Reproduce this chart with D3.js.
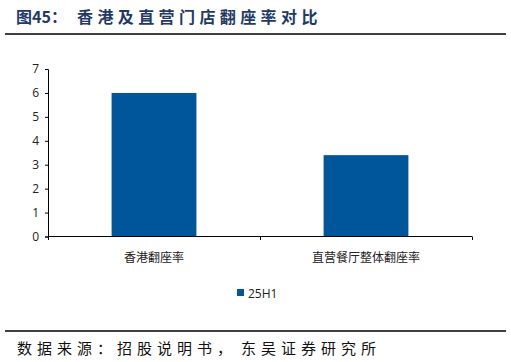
<!DOCTYPE html>
<html>
<head>
<meta charset="utf-8">
<script src="https://cdn.jsdelivr.net/npm/d3@7"></script>
<style>
  body { margin: 0; background: #fff; }
  svg { display: block; }
</style>
</head>
<body>
<svg id="chart" width="511" height="362"></svg>
<script>
let categories = ["香港翻座率", "直营餐厅整体翻座率"]
let values25H1 = [6.0, 3.4]
let yTicks = [0, 1, 2, 3, 4, 5, 6, 7]
let seriesName = "25H1"

let svg = d3.select("#chart")
let barColor = "#00569b"
let cjk = "'Noto Sans CJK SC', sans-serif"
let latin = "'Open Sans', sans-serif"

// title + rules
let title = svg.append("text")
    .attr("y", 23)
    .attr("font-family", cjk)
    .attr("font-weight", "bold")
    .attr("font-size", 16)
    .attr("fill", "#1f3a68")
title.append("tspan").attr("x", 16).text("图45\uFF1A")
title.append("tspan").attr("x", 77).attr("letter-spacing", 4.4).text("香港及直营门店翻座率对比")

svg.append("line").attr("x1", 5).attr("x2", 506).attr("y1", 34).attr("y2", 34)
    .attr("stroke", "#000").attr("stroke-width", 1.5)

svg.append("line").attr("x1", 5).attr("x2", 506).attr("y1", 331).attr("y2", 331)
    .attr("stroke", "#000").attr("stroke-width", 1.5)

let foot = svg.append("text")
    .attr("y", 354)
    .attr("font-family", cjk)
    .attr("font-size", 15)
    .attr("fill", "#111")
    .attr("letter-spacing", 5)
foot.append("tspan").attr("x", 17).text("数据来源\uFF1A招股说明书\uFF0C")
foot.append("tspan").attr("x", 241).text("东吴证券研究所")

// chart
let x = d3.scaleBand(categories, [48, 472]).paddingInner(0).paddingOuter(0)
let y = d3.scaleLinear([0, 7], [236.5, 69])

let g = svg.append("g")

g.selectAll("rect.bar")
    .data(values25H1)
    .enter()
    .append("rect")
    .attr("class", "bar")
    .attr("x", (d, i) => x(categories[i]) + x.bandwidth() * 0.3)
    .attr("width", x.bandwidth() * 0.4)
    .attr("y", d => y(d))
    .attr("height", d => y(0) - y(d))
    .attr("fill", barColor)

let yAxis = g.append("g")
    .attr("transform", "translate(48,0)")
    .call(d3.axisLeft(y).tickValues(yTicks).tickSize(3).tickFormat(d3.format("d")))
yAxis.select(".domain").attr("stroke", "#000")
yAxis.selectAll(".tick line").attr("stroke", "#000")
yAxis.selectAll("text")
    .attr("font-family", latin)
    .attr("font-size", 12)
    .attr("fill", "#222")
    .attr("x", -9)

// x axis line + boundary ticks
g.append("line").attr("x1", 48).attr("x2", 472).attr("y1", 236.5).attr("y2", 236.5)
    .attr("stroke", "#000")
let bounds = [48, x(categories[1]), 472]
g.selectAll("line.xt")
    .data(bounds)
    .enter()
    .append("line")
    .attr("class", "xt")
    .attr("x1", d => d + 0.5).attr("x2", d => d + 0.5)
    .attr("y1", 236.5).attr("y2", 240)
    .attr("stroke", "#000")

g.selectAll("text.cat")
    .data(categories)
    .enter()
    .append("text")
    .attr("class", "cat")
    .attr("x", d => x(d) + x.bandwidth() / 2)
    .attr("y", 262)
    .attr("text-anchor", "middle")
    .attr("font-family", cjk)
    .attr("font-size", 12)
    .attr("fill", "#222")
    .text(d => d)

// legend
svg.append("rect").attr("x", 237).attr("y", 289).attr("width", 7).attr("height", 7)
    .attr("fill", barColor)
svg.append("text")
    .attr("x", 248).attr("y", 297.5)
    .attr("font-family", latin)
    .attr("font-size", 12)
    .attr("fill", "#222")
    .text(seriesName)
</script>
</body>
</html>
